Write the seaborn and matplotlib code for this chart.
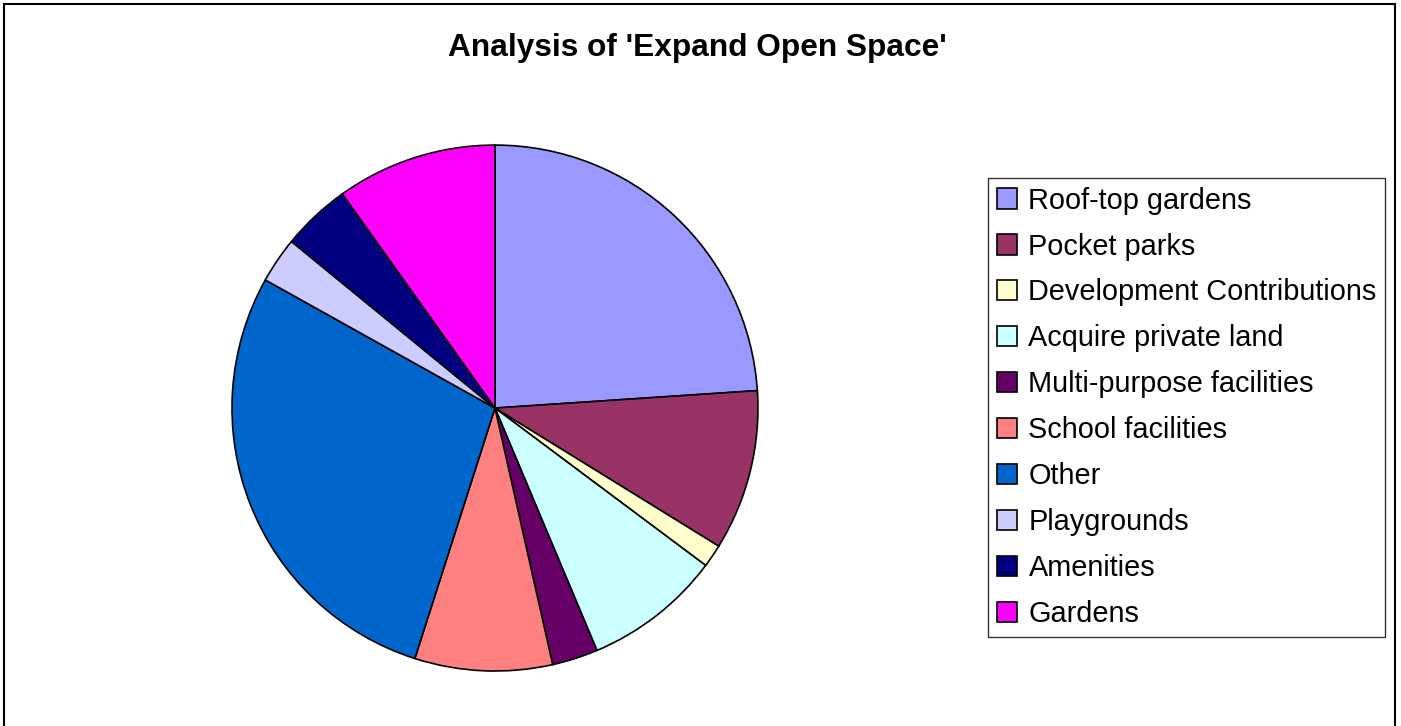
import matplotlib
matplotlib.use("Agg")
import matplotlib.pyplot as plt
import seaborn as sns
from matplotlib.patches import Rectangle

# --- Datos del gráfico ---
categorias = [
    "Roof-top gardens",
    "Pocket parks",
    "Development Contributions",
    "Acquire private land",
    "Multi-purpose facilities",
    "School facilities",
    "Other",
    "Playgrounds",
    "Amenities",
    "Gardens",
]
valores = [17, 7, 1, 6, 2, 6, 20, 2, 3, 7]
colores = [
    "#9999FF", "#993366", "#FFFFCC", "#CCFFFF", "#660066",
    "#FF8080", "#0066CC", "#CCCCFF", "#000080", "#FF00FF",
]

sns.set_style("white")
plt.rcParams["font.family"] = ["Liberation Sans", "DejaVu Sans"]
plt.rcParams["text.color"] = "black"

fig = plt.figure(figsize=(14.01, 7.26), dpi=100)

# --- Marco exterior ---
fig.patches.append(Rectangle((4 / 1401, -0.02), 1391 / 1401, 1 - 4 / 726 + 0.02,
                             transform=fig.transFigure, fill=False,
                             edgecolor="black", linewidth=1.5))

# --- Torta ---
ax = fig.add_axes([0.1656, 0.0757, 0.3754, 0.7245])
wedges, _ = ax.pie(
    valores,
    colors=colores,
    startangle=90,
    counterclock=False,
    wedgeprops={"edgecolor": "black", "linewidth": 1.2},
)
for w in wedges:
    w.set_clip_on(False)
ax.set_xlim(-1, 1)
ax.set_ylim(-1, 1)
ax.set_aspect("equal")

fig.text(697 / 1401, 1 - 48 / 726, "Analysis of 'Expand Open Space'",
         ha="center", va="center", fontsize=22.8, fontweight="bold",
         color="black")

# --- Leyenda ---
leg = fig.legend(
    wedges, categorias,
    loc="upper left",
    bbox_to_anchor=(988 / 1401, 1 - 178 / 726),
    bbox_transform=fig.transFigure,
    borderaxespad=0,
    fontsize=20.8,
    labelcolor="black",
    frameon=True,
    fancybox=False,
    edgecolor="black",
    handlelength=0.7,
    handleheight=0.7,
    handletextpad=0.4,
    labelspacing=0.62,
    borderpad=0.3,
)
leg.get_frame().set_linewidth(1.0)

plt.savefig("out.png", dpi=100)
